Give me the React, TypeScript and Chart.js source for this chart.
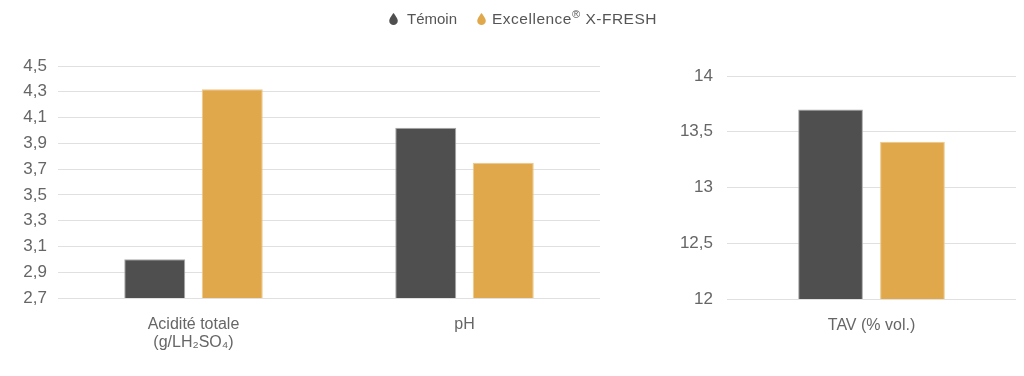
import React, { useEffect, useRef } from "react";
import { Chart, registerables } from "chart.js";

Chart.register(...registerables);

const seriesNames = ["Témoin", "Excellence® X-FRESH"];
const seriesColors = ["#4f4f4f", "#e0a84b"];
const seriesBorders = ["#a8a8a8", "#ecc88c"];

const leftCategories: (string | string[])[] = [["Acidité totale", "(g/LH₂SO₄)"], "pH"];
const leftTemoin = [3.0, 4.02];
const leftXfresh = [4.32, 3.75];
const leftAxis = { min: 2.7, max: 4.5, step: 0.2 };

const rightCategories = ["TAV (% vol.)"];
const rightTemoin = [13.7];
const rightXfresh = [13.41];
const rightAxis = { min: 12, max: 14, step: 0.5 };

const FONT = "'Liberation Sans', Arial, sans-serif";
const TEXT = "#666666";
const GRID = "#e0e0e0";

function fmt(v: number) {
  const r = Math.round(v * 10) / 10;
  return Number.isInteger(r) ? String(r) : r.toFixed(1).replace(".", ",");
}

type Cfg = {
  labels: (string | string[])[];
  a: number[];
  b: number[];
  axis: { min: number; max: number; step: number };
  padding: { top: number; right: number; bottom: number; left: number };
  yWidth: number;
  yPad: number;
  cat: number;
  bar: number;
};

function makeChart(canvas: HTMLCanvasElement, c: Cfg) {
  return new Chart(canvas, {
    type: "bar",
    data: {
      labels: c.labels,
      datasets: [
        {
          label: seriesNames[0],
          data: c.a,
          backgroundColor: seriesColors[0],
          borderColor: seriesBorders[0],
          borderWidth: 1,
          categoryPercentage: c.cat,
          barPercentage: c.bar,
        },
        {
          label: seriesNames[1],
          data: c.b,
          backgroundColor: seriesColors[1],
          borderColor: seriesBorders[1],
          borderWidth: 1,
          categoryPercentage: c.cat,
          barPercentage: c.bar,
        },
      ],
    },
    options: {
      animation: false,
      responsive: false,
      layout: { padding: c.padding },
      plugins: { legend: { display: false }, tooltip: { enabled: false }, title: { display: false } },
      scales: {
        x: {
          grid: { display: false },
          border: { display: false },
          ticks: {
            color: TEXT,
            font: { family: FONT, size: 16, lineHeight: 1.1 },
            padding: 10,
            maxRotation: 0,
            autoSkip: false,
          },
          afterFit: (s: any) => {
            s.height = 60;
          },
        },
        y: {
          min: c.axis.min,
          max: c.axis.max,
          grid: { color: GRID, lineWidth: 1, drawTicks: false },
          border: { display: false },
          ticks: {
            stepSize: c.axis.step,
            color: TEXT,
            font: { family: FONT, size: 17 },
            padding: c.yPad,
            callback: (v: any) => fmt(Number(v)),
          },
          afterFit: (s: any) => {
            s.width = c.yWidth;
          },
        },
      },
    },
  });
}

function Drop({ color }: { color: string }) {
  return (
    <svg width="9" height="12" viewBox="0 0 10 14" style={{ display: "block" }}>
      <path d="M5 0 C5 0 0 6 0 9 A5 5 0 0 0 10 9 C10 6 5 0 5 0Z" fill={color} />
    </svg>
  );
}

export default function App() {
  const leftRef = useRef<HTMLCanvasElement>(null);
  const rightRef = useRef<HTMLCanvasElement>(null);

  useEffect(() => {
    const l = makeChart(leftRef.current!, {
      labels: leftCategories,
      a: leftTemoin,
      b: leftXfresh,
      axis: leftAxis,
      padding: { top: 66, right: 20, bottom: 18, left: 0 },
      yWidth: 58,
      yPad: 11,
      cat: 0.572,
      bar: 0.787,
    });
    const r = makeChart(rightRef.current!, {
      labels: rightCategories,
      a: rightTemoin,
      b: rightXfresh,
      axis: rightAxis,
      padding: { top: 76, right: 8, bottom: 17, left: 0 },
      yWidth: 87,
      yPad: 14,
      cat: 0.567,
      bar: 0.79,
    });
    return () => {
      l.destroy();
      r.destroy();
    };
  }, []);

  return (
    <div
      style={{
        position: "fixed",
        left: 0,
        top: 0,
        width: 1024,
        height: 376,
        background: "#ffffff",
        fontFamily: FONT,
      }}
    >
      <canvas ref={leftRef} width={620} height={376} style={{ position: "absolute", left: 0, top: 0, width: 620, height: 376 }} />
      <canvas ref={rightRef} width={384} height={376} style={{ position: "absolute", left: 640, top: 0, width: 384, height: 376 }} />
      <div
        style={{
          position: "absolute",
          left: 389,
          top: 9,
          display: "flex",
          alignItems: "center",
          fontSize: 15,
          color: "#555555",
          lineHeight: "20px",
          whiteSpace: "nowrap",
        }}
      >
        <Drop color={seriesColors[0]} />
        <span style={{ marginLeft: 9 }}>{seriesNames[0]}</span>
        <span style={{ marginLeft: 20 }}>
          <Drop color={seriesColors[1]} />
        </span>
        <span style={{ marginLeft: 6, fontSize: 15.5, letterSpacing: "0.5px" }}>
          Excellence<sup style={{ fontSize: 11, verticalAlign: 6, lineHeight: 0 }}>®</sup> X-FRESH
        </span>
      </div>
    </div>
  );
}
